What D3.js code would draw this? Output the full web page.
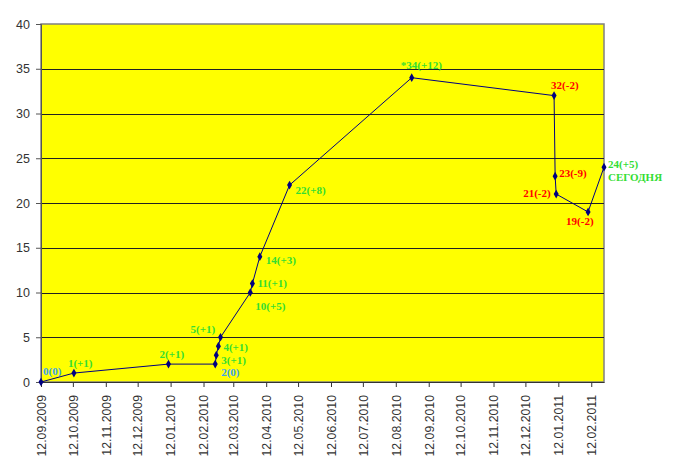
<!DOCTYPE html>
<html><head><meta charset="utf-8">
<script src="https://cdn.jsdelivr.net/npm/d3@7"></script>
<style>html,body{margin:0;padding:0;background:#fff;}svg{display:block;}</style>
</head><body>
<svg id="chart" width="700" height="476"></svg>
<script>
// ---- data ----
const dates = ["12.09.2009","13.10.2009","10.01.2010","23.02.2010","24.02.2010","26.02.2010","28.02.2010",
  "28.03.2010","30.03.2010","06.04.2010","04.05.2010","27.08.2010","08.01.2011","09.01.2011","10.01.2011",
  "09.02.2011","24.02.2011"];
const values = [0,1,2,2,3,4,5,10,11,14,22,34,32,23,21,19,24];
const labels = ["0(0)","1(+1)","2(+1)","2(0)","3(+1)","4(+1)","5(+1)","10(+5)","11(+1)","14(+3)","22(+8)",
  "*34(+12)","32(-2)","23(-9)","21(-2)","19(-2)","24(+5)"];
const labelKinds = ["zero","gain","gain","zero","gain","gain","gain","gain","gain","gain","gain",
  "gain","loss","loss","loss","loss","gain"];
const todayLabel = "СЕГОДНЯ";
const yTicks = [0,5,10,15,20,25,30,35,40];
const xTickDates = ["12.09.2009","12.10.2009","12.11.2009","12.12.2009","12.01.2010","12.02.2010","12.03.2010",
  "12.04.2010","12.05.2010","12.06.2010","12.07.2010","12.08.2010","12.09.2010","12.10.2010","12.11.2010",
  "12.12.2010","12.01.2011","12.02.2011"];

// ---- layout (kept separate from data) ----
const labelOffsets = [[2,-11],[-6,-10],[-9,-10],[6,8.5],[5,5],[5,1],[-30,-8],[5,14],[5,0],[6,3],[6,5],
  [-11,-13],[-3,-10],[4,-3],[-33,-1],[-22,9],[4,-3]];
const kindColor = {zero:"#3BA3EE", gain:"#33DD33", loss:"#FF0000"};

const parse = d3.timeParse("%d.%m.%Y");
const fmt = d3.timeFormat("%d.%m.%Y");
const pts = dates.map((d,i)=>({date:parse(d), v:values[i], label:labels[i], kind:labelKinds[i], off:labelOffsets[i]}));

const L=41, R=604, T=24, B=382;
const svg = d3.select("#chart");
const x = d3.scaleTime().domain([parse("12.09.2009"), parse("24.02.2011")]).range([L,R]);
const y = d3.scaleLinear().domain([0,40]).range([B,T]);

// plot area
svg.append("rect").attr("x",L).attr("y",T).attr("width",R-L).attr("height",B-T)
  .attr("fill","#FFFF00").attr("stroke","#808080").attr("stroke-width",1.5);

// gridlines
svg.append("g").selectAll("line").data(yTicks.filter(t=>t>0&&t<40)).join("line")
  .attr("x1",L).attr("x2",R).attr("y1",d=>Math.round(y(d))+0.5).attr("y2",d=>Math.round(y(d))+0.5)
  .attr("stroke","#222").attr("stroke-width",1);

// y axis
const yAxis = d3.axisLeft(y).tickValues(yTicks).tickSize(5).tickPadding(6);
const gy = svg.append("g").attr("transform",`translate(${L},0)`).call(yAxis);
gy.select(".domain").attr("stroke","#555");
gy.selectAll(".tick line").attr("stroke","#555");
gy.selectAll("text").attr("font-family","Liberation Sans, Arial, sans-serif").attr("font-size","12.5px").attr("fill","#333");

// x axis
const xAxis = d3.axisBottom(x).tickValues(xTickDates.map(parse)).tickFormat(fmt).tickSize(5).tickSizeOuter(0);
const gx = svg.append("g").attr("transform",`translate(0,${B})`).call(xAxis);
gx.select(".domain").attr("stroke","#333");
gx.selectAll(".tick line").attr("stroke","#333");
gx.selectAll("text").attr("font-family","Liberation Sans, Arial, sans-serif").attr("font-size","12.3px").attr("fill","#333")
  .attr("transform","rotate(-90)").attr("text-anchor","end").attr("x",-13).attr("y",0).attr("dy","0.35em");

// line
const line = d3.line().x(d=>x(d.date)).y(d=>y(d.v));
svg.append("path").datum(pts).attr("d",line).attr("fill","none").attr("stroke","#000080").attr("stroke-width",1);

// markers (diamonds)
const sym = d3.symbol().type(d3.symbolDiamond).size(22);
svg.append("g").selectAll("path").data(pts).join("path")
  .attr("d",sym).attr("transform",d=>`translate(${x(d.date)},${y(d.v)})`).attr("fill","#000080");

// labels
const lg = svg.append("g").attr("font-family","Liberation Serif, Times New Roman, serif")
  .attr("font-weight","bold").attr("font-size","11px");
lg.selectAll("text").data(pts).join("text")
  .attr("x",d=>x(d.date)+d.off[0]).attr("y",d=>y(d.v)+d.off[1]).attr("dy","0.35em")
  .attr("fill",d=>kindColor[d.kind]).text(d=>d.label);
const last = pts[pts.length-1];
lg.append("text").attr("x",x(last.date)+last.off[0]).attr("y",y(last.v)+last.off[1]+12.5).attr("dy","0.35em")
  .attr("fill",kindColor.gain).text(todayLabel);
</script>
</body></html>
